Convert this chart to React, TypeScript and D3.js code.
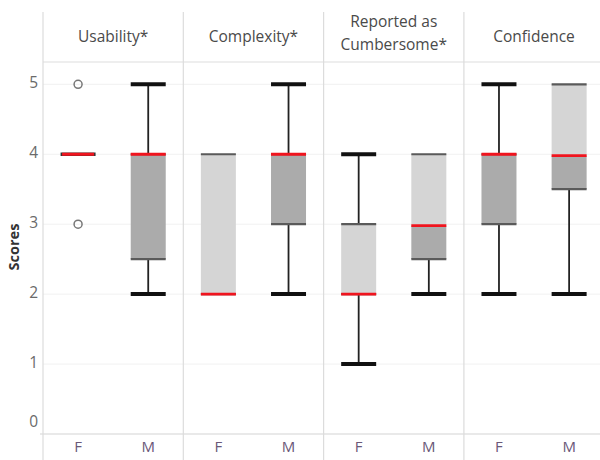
import React from "react";
import * as d3 from "d3";

// Survey measures (columns) and respondent groups (one box per group)
const measures = ["Usability*", "Complexity*", "Reported as\nCumbersome*", "Confidence"];
const genders = ["F", "M"];

// Five-number summaries, one entry per measure, ordered [F, M]
const minVals = [[4, 2], [2, 2], [1, 2], [2, 2]];
const q1Vals = [[4, 2.5], [2, 3], [2, 2.5], [3, 3.5]];
const medianVals = [[4, 4], [2, 4], [2, 2.98], [4, 3.98]];
const q3Vals = [[4, 4], [4, 4], [3, 4], [4, 5]];
const maxVals = [[4, 5], [4, 5], [4, 4], [5, 5]];

// Individual points outside the whiskers: [measure index, gender, score]
const outliers: [number, string, number][] = [
  [0, "F", 5],
  [0, "F", 3],
];

const yTicks = [0, 1, 2, 3, 4, 5];

const W = 600;
const H = 460;
const plotLeft = 43;
const panelW = 140.3;
const headerTop = 12;
const headerBottom = 62;
const plotBottom = 434;

const FONT = "'Open Sans', 'Noto Sans', sans-serif";

export default function App() {
  const y = d3.scaleLinear().domain([0, 5]).range([plotBottom, 84.3]);
  const panelX = d3
    .scaleBand<number>()
    .domain(measures.map((_, i) => i))
    .range([plotLeft, plotLeft + panelW * measures.length]);
  const inner = d3.scaleBand<string>().domain(genders).range([0, panelW]);
  const boxW = 35;

  const boxes: React.ReactNode[] = [];
  measures.forEach((_, mi) => {
    genders.forEach((g, gi) => {
      const cx = (panelX(mi) as number) + (inner(g) as number) + inner.bandwidth() / 2;
      const x0 = cx - boxW / 2;
      const mn = minVals[mi][gi];
      const q1 = q1Vals[mi][gi];
      const md = medianVals[mi][gi];
      const q3 = q3Vals[mi][gi];
      const mx = maxVals[mi][gi];
      const key = `${mi}-${g}`;
      boxes.push(
        <g key={key}>
          {/* upper whisker */}
          {mx > q3 && (
            <>
              <line x1={cx} x2={cx} y1={y(q3)} y2={y(mx)} stroke="#222" strokeWidth={1.8} />
              <line x1={x0} x2={x0 + boxW} y1={y(mx)} y2={y(mx)} stroke="#111" strokeWidth={4} />
            </>
          )}
          {/* lower whisker */}
          {mn < q1 && (
            <>
              <line x1={cx} x2={cx} y1={y(q1)} y2={y(mn)} stroke="#222" strokeWidth={1.8} />
              <line x1={x0} x2={x0 + boxW} y1={y(mn)} y2={y(mn)} stroke="#111" strokeWidth={4} />
            </>
          )}
          {/* upper half of the box: median to Q3 */}
          {q3 > md && (
            <rect x={x0} width={boxW} y={y(q3)} height={y(md) - y(q3)} fill="#d5d5d5" />
          )}
          {/* lower half of the box: Q1 to median */}
          {md > q1 && (
            <rect x={x0} width={boxW} y={y(md)} height={y(q1) - y(md)} fill="#ababab" />
          )}
          {q3 > q1 && (
            <>
              <line x1={x0} x2={x0 + boxW} y1={y(q3)} y2={y(q3)} stroke="#5a5a5a" strokeWidth={2.2} />
              <line x1={x0} x2={x0 + boxW} y1={y(q1)} y2={y(q1)} stroke="#5a5a5a" strokeWidth={2.2} />
            </>
          )}
          {/* median */}
          {q3 === q1 && (
            <line x1={x0} x2={x0 + boxW} y1={y(md)} y2={y(md)} stroke="#333" strokeWidth={3.4} />
          )}
          <line
            x1={x0 + (q3 === q1 ? 1.5 : 0)}
            x2={x0 + boxW - (q3 === q1 ? 1.5 : 0)}
            y1={y(md)}
            y2={y(md)}
            stroke="#f0141e"
            strokeWidth={2.8}
          />
        </g>
      );
    });
  });

  return (
    <svg
      width={W}
      height={H}
      style={{ position: "absolute", left: 0, top: 0, background: "#fff" }}
      fontFamily={FONT}
    >
      {/* horizontal gridlines */}
      {yTicks
        .filter((t) => t > 0)
        .map((t) => (
          <line key={`g${t}`} x1={plotLeft} x2={W} y1={y(t)} y2={y(t)} stroke="#f1f1f1" strokeWidth={1} />
        ))}
      {/* header rule and baseline */}
      <line x1={plotLeft} x2={W} y1={headerBottom} y2={headerBottom} stroke="#dedede" strokeWidth={1.2} />
      <line x1={plotLeft - 3} x2={W} y1={plotBottom} y2={plotBottom} stroke="#e2e2e2" strokeWidth={1.5} />
      {/* panel dividers */}
      {measures.map((_, i) => (
        <line
          key={`d${i}`}
          x1={panelX(i) as number}
          x2={panelX(i) as number}
          y1={headerTop}
          y2={H}
          stroke="#dcdcdc"
          strokeWidth={1.2}
        />
      ))}
      {/* panel headers */}
      {measures.map((m, i) => {
        const lines = m.split("\n");
        const cx = (panelX(i) as number) + panelX.bandwidth() / 2;
        const startY = lines.length === 1 ? 38 : 23;
        return (
          <text key={`h${i}`} textAnchor="middle" fontSize={15.5} fill="#4a4a4a">
            {lines.map((l, li) => (
              <tspan key={li} x={cx} y={startY + li * 22.5} dominantBaseline="middle">
                {l}
              </tspan>
            ))}
          </text>
        );
      })}
      {/* y axis tick labels */}
      {yTicks.map((t) => (
        <text
          key={`t${t}`}
          x={38}
          y={t === 0 ? y(t) - 11 : y(t)}
          textAnchor="end"
          dominantBaseline="middle"
          fontSize={15.5}
          fill="#6a6a6a"
        >
          {t}
        </text>
      ))}
      <text
        transform={`translate(15,${247}) rotate(-90)`}
        textAnchor="middle"
        dominantBaseline="middle"
        fontSize={14.5}
        fontWeight="bold"
        fill="#333"
      >
        Scores
      </text>
      {/* group labels */}
      {measures.map((_, mi) =>
        genders.map((g) => (
          <text
            key={`x${mi}${g}`}
            x={(panelX(mi) as number) + (inner(g) as number) + inner.bandwidth() / 2}
            y={448}
            textAnchor="middle"
            dominantBaseline="middle"
            fontSize={15}
            fill="#6a5878"
          >
            {g}
          </text>
        ))
      )}
      {boxes}
      {/* outliers */}
      {outliers.map(([mi, g, v], i) => (
        <circle
          key={`o${i}`}
          cx={(panelX(mi) as number) + (inner(g) as number) + inner.bandwidth() / 2}
          cy={y(v)}
          r={4}
          fill="none"
          stroke="#777"
          strokeWidth={1.5}
        />
      ))}
    </svg>
  );
}
